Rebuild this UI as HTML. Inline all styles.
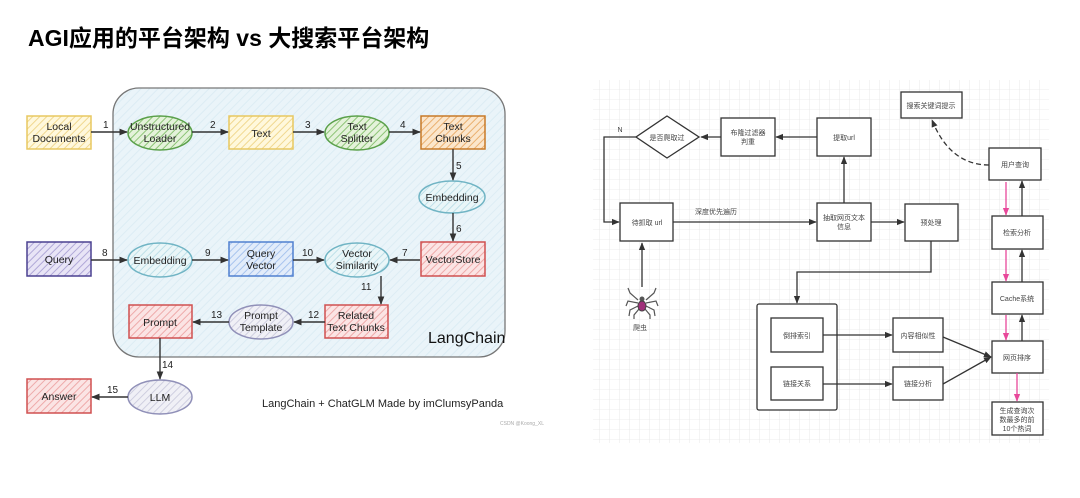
<!DOCTYPE html>
<html><head><meta charset="utf-8"><style>
html,body{margin:0;padding:0;background:#fff;width:1080px;height:498px;overflow:hidden}
svg{display:block}
.t{font-family:"Liberation Sans","Noto Sans CJK SC",sans-serif}
</style></head><body>
<svg width="1080" height="498" viewBox="0 0 1080 498" xmlns="http://www.w3.org/2000/svg" class="t">
<defs>
<pattern id="hY" width="5" height="5" patternUnits="userSpaceOnUse" patternTransform="rotate(45)"><rect width="5" height="5" fill="#fff8dc"/><line x1="0" y1="0" x2="0" y2="5" stroke="#f0d890" stroke-width="2"/></pattern>
<pattern id="hG" width="5" height="5" patternUnits="userSpaceOnUse" patternTransform="rotate(45)"><rect width="5" height="5" fill="#e4f2da"/><line x1="0" y1="0" x2="0" y2="5" stroke="#8cc476" stroke-width="2"/></pattern>
<pattern id="hO" width="5" height="5" patternUnits="userSpaceOnUse" patternTransform="rotate(45)"><rect width="5" height="5" fill="#fbe6cc"/><line x1="0" y1="0" x2="0" y2="5" stroke="#eab070" stroke-width="2"/></pattern>
<pattern id="hT" width="5" height="5" patternUnits="userSpaceOnUse" patternTransform="rotate(45)"><rect width="5" height="5" fill="#eaf6f8"/><line x1="0" y1="0" x2="0" y2="5" stroke="#bfe0e8" stroke-width="2"/></pattern>
<pattern id="hP" width="5" height="5" patternUnits="userSpaceOnUse" patternTransform="rotate(45)"><rect width="5" height="5" fill="#e8e4f6"/><line x1="0" y1="0" x2="0" y2="5" stroke="#b0a8d8" stroke-width="2"/></pattern>
<pattern id="hB" width="5" height="5" patternUnits="userSpaceOnUse" patternTransform="rotate(45)"><rect width="5" height="5" fill="#e2ecfa"/><line x1="0" y1="0" x2="0" y2="5" stroke="#a8c4ee" stroke-width="2"/></pattern>
<pattern id="hR" width="5" height="5" patternUnits="userSpaceOnUse" patternTransform="rotate(45)"><rect width="5" height="5" fill="#fbe4e4"/><line x1="0" y1="0" x2="0" y2="5" stroke="#eeaaaa" stroke-width="2"/></pattern>
<pattern id="hV" width="5" height="5" patternUnits="userSpaceOnUse" patternTransform="rotate(45)"><rect width="5" height="5" fill="#f0f0f6"/><line x1="0" y1="0" x2="0" y2="5" stroke="#cfcfe0" stroke-width="2"/></pattern>
<pattern id="hC" width="6" height="6" patternUnits="userSpaceOnUse" patternTransform="rotate(45)"><rect width="6" height="6" fill="#eaf4f9"/><line x1="0" y1="0" x2="0" y2="6" stroke="#dcecf4" stroke-width="2"/></pattern>
<pattern id="grid" width="10" height="10" patternUnits="userSpaceOnUse"><rect width="10" height="10" fill="#fff"/><path d="M10 0V10H0" fill="none" stroke="#e6e6e6" stroke-width="0.8"/></pattern>
<marker id="a" viewBox="0 0 10 10" refX="9" refY="5" markerWidth="6" markerHeight="6" orient="auto"><path d="M0 1L10 5L0 9z" fill="#333"/></marker>
<marker id="p" viewBox="0 0 10 10" refX="9" refY="5" markerWidth="6" markerHeight="6" orient="auto"><path d="M0 1L10 5L0 9z" fill="#e8489a"/></marker>
</defs>

<text x="28" y="46" font-size="23" font-weight="bold" fill="#000">AGI应用的平台架构 vs 大搜索平台架构</text>

<!-- LEFT -->
<rect x="113" y="88" width="392" height="269" rx="26" fill="url(#hC)" stroke="#777" stroke-width="1.3"/>
<g font-size="10.5" fill="#222" text-anchor="middle">
<rect x="27" y="116" width="64" height="33" fill="url(#hY)" stroke="#e8c860" stroke-width="1.5"/>
<text x="59" y="130">Local</text><text x="59" y="142">Documents</text>
<ellipse cx="160" cy="133" rx="32" ry="17" fill="url(#hG)" stroke="#5aa04a" stroke-width="1.5"/>
<text x="160" y="130">Unstructured</text><text x="160" y="142">Loader</text>
<rect x="229" y="116" width="64" height="33" fill="url(#hY)" stroke="#e8c860" stroke-width="1.5"/>
<text x="261" y="137">Text</text>
<ellipse cx="357" cy="133" rx="32" ry="17" fill="url(#hG)" stroke="#5aa04a" stroke-width="1.5"/>
<text x="357" y="130">Text</text><text x="357" y="142">Splitter</text>
<rect x="421" y="116" width="64" height="33" fill="url(#hO)" stroke="#c87a28" stroke-width="1.5"/>
<text x="453" y="130">Text</text><text x="453" y="142">Chunks</text>
<ellipse cx="452" cy="197" rx="33" ry="16" fill="url(#hT)" stroke="#70b4c4" stroke-width="1.5"/>
<text x="452" y="201">Embedding</text>
<rect x="421" y="242" width="64" height="34" fill="url(#hR)" stroke="#d05050" stroke-width="1.5"/>
<text x="453" y="263">VectorStore</text>
<rect x="27" y="242" width="64" height="34" fill="url(#hP)" stroke="#4a4090" stroke-width="1.5"/>
<text x="59" y="263">Query</text>
<ellipse cx="160" cy="260" rx="32" ry="17" fill="url(#hT)" stroke="#70b4c4" stroke-width="1.5"/>
<text x="160" y="264">Embedding</text>
<rect x="229" y="242" width="64" height="34" fill="url(#hB)" stroke="#5080d0" stroke-width="1.5"/>
<text x="261" y="257">Query</text><text x="261" y="269">Vector</text>
<ellipse cx="357" cy="260" rx="32" ry="17" fill="url(#hT)" stroke="#70b4c4" stroke-width="1.5"/>
<text x="357" y="257">Vector</text><text x="357" y="269">Similarity</text>
<rect x="325" y="305" width="63" height="33" fill="url(#hR)" stroke="#d05050" stroke-width="1.5"/>
<text x="356" y="319">Related</text><text x="356" y="331">Text Chunks</text>
<ellipse cx="261" cy="322" rx="32" ry="17" fill="url(#hV)" stroke="#9090b8" stroke-width="1.5"/>
<text x="261" y="319">Prompt</text><text x="261" y="331">Template</text>
<rect x="129" y="305" width="63" height="33" fill="url(#hR)" stroke="#d05050" stroke-width="1.5"/>
<text x="160" y="326">Prompt</text>
<ellipse cx="160" cy="397" rx="32" ry="17" fill="url(#hV)" stroke="#9090b8" stroke-width="1.5"/>
<text x="160" y="401">LLM</text>
<rect x="27" y="379" width="64" height="34" fill="url(#hR)" stroke="#d05050" stroke-width="1.5"/>
<text x="59" y="400">Answer</text>
</g>
<g stroke="#333" stroke-width="1.4" fill="none" marker-end="url(#a)">
<path d="M91 132H127"/><path d="M192 132H228"/><path d="M293 132H324"/><path d="M389 132H420"/>
<path d="M453 149V180"/><path d="M453 213V241"/><path d="M420 260H390"/>
<path d="M91 260H127"/><path d="M192 260H228"/><path d="M293 260H324"/>
<path d="M381 276V304"/><path d="M325 322H294"/><path d="M229 322H193"/>
<path d="M160 338V379"/><path d="M128 397H92"/>
</g>
<g font-size="10" fill="#222">
<text x="103" y="128">1</text><text x="210" y="128">2</text><text x="305" y="128">3</text><text x="400" y="128">4</text>
<text x="456" y="169">5</text><text x="456" y="232">6</text><text x="402" y="256">7</text>
<text x="102" y="256">8</text><text x="205" y="256">9</text><text x="302" y="256">10</text>
<text x="361" y="290">11</text><text x="308" y="318">12</text><text x="211" y="318">13</text>
<text x="162" y="368">14</text><text x="107" y="393">15</text>
</g>
<text x="428" y="343" font-size="16" fill="#111">LangChain</text>
<text x="262" y="407" font-size="11" fill="#222">LangChain + ChatGLM Made by imClumsyPanda</text>
<text x="500" y="425" font-size="5" fill="#aaa">CSDN @Koong_XL</text>

<!-- RIGHT -->
<rect x="593" y="80" width="456" height="363" fill="url(#grid)"/>
<g fill="#fff" stroke="#333" stroke-width="1.3">
<rect x="901" y="92" width="61" height="26"/>
<path d="M667 116L699 137L667 158L636 137Z"/>
<rect x="721" y="118" width="54" height="38"/>
<rect x="817" y="118" width="54" height="38"/>
<rect x="989" y="148" width="52" height="32"/>
<rect x="620" y="203" width="53" height="38"/>
<rect x="817" y="203" width="54" height="38"/>
<rect x="905" y="204" width="53" height="37"/>
<rect x="992" y="216" width="51" height="33"/>
<rect x="992" y="282" width="51" height="32"/>
<rect x="992" y="341" width="51" height="32"/>
<rect x="992" y="402" width="51" height="33"/>
<rect x="757" y="304" width="80" height="106" rx="2"/>
<rect x="771" y="318" width="52" height="34"/>
<rect x="771" y="367" width="52" height="33"/>
<rect x="893" y="318" width="50" height="34"/>
<rect x="893" y="367" width="50" height="33"/>
</g>
<g font-size="7" fill="#444" text-anchor="middle">
<text x="931" y="108">搜索关键词提示</text>
<text x="667" y="140">是否爬取过</text>
<text x="748" y="135">布隆过滤器</text><text x="748" y="144">判重</text>
<text x="844" y="140">提取url</text>
<text x="1015" y="167">用户查询</text>
<text x="647" y="225">待抓取 url</text>
<text x="844" y="220">抽取网页文本</text><text x="844" y="229">信息</text>
<text x="931" y="225">预处理</text>
<text x="1017" y="235">检索分析</text>
<text x="1017" y="301">Cache系统</text>
<text x="1017" y="360">网页排序</text>
<text x="1017" y="413">生成查询次</text><text x="1017" y="422">数最多的前</text><text x="1017" y="431">10个热词</text>
<text x="797" y="338">倒排索引</text>
<text x="797" y="386">链接关系</text>
<text x="918" y="338">内容相似性</text>
<text x="918" y="386">链接分析</text>
<text x="716" y="214">深度优先遍历</text>
<text x="640" y="330">爬虫</text>
<text x="620" y="132">N</text>
</g>
<g stroke="#333" stroke-width="1.3" fill="none" marker-end="url(#a)">
<path d="M636 137H604V222H619"/>
<path d="M721 137H701"/><path d="M817 137H776"/>
<path d="M844 203V157"/>
<path d="M673 222H816"/><path d="M871 222H904"/>
<path d="M931 241V272H797V303"/>
<path d="M642 287V243"/>
<path d="M823 335H892"/><path d="M823 384H892"/>
<path d="M943 337L991 357"/><path d="M943 384L991 357"/>
<path d="M1022 341V315"/><path d="M1022 282V250"/><path d="M1022 216V181"/>
</g>
<path d="M989 165Q950 165 932 120" stroke="#333" stroke-width="1.3" fill="none" stroke-dasharray="5,3" marker-end="url(#a)"/>
<g stroke="#e8489a" stroke-width="1.3" fill="none" marker-end="url(#p)">
<path d="M1006 182V215"/><path d="M1006 250V281"/><path d="M1006 315V340"/><path d="M1017 373V401"/>
</g>
<g stroke="#555" stroke-width="1.2" fill="none">
<path d="M638 300L630 293L628 288"/><path d="M646 300L654 293L656 288"/>
<path d="M638 303L628 301L626 306"/><path d="M646 303L656 301L658 306"/>
<path d="M638 306L630 310L629 316"/><path d="M646 306L654 310L655 316"/>
<path d="M639 309L634 315L634 319"/><path d="M645 309L650 315L650 319"/>
</g>
<circle cx="642" cy="299" r="2.5" fill="#555"/>
<ellipse cx="642" cy="306" rx="4" ry="5" fill="#a0307a" stroke="#444" stroke-width="1"/>
</svg>
</body></html>
